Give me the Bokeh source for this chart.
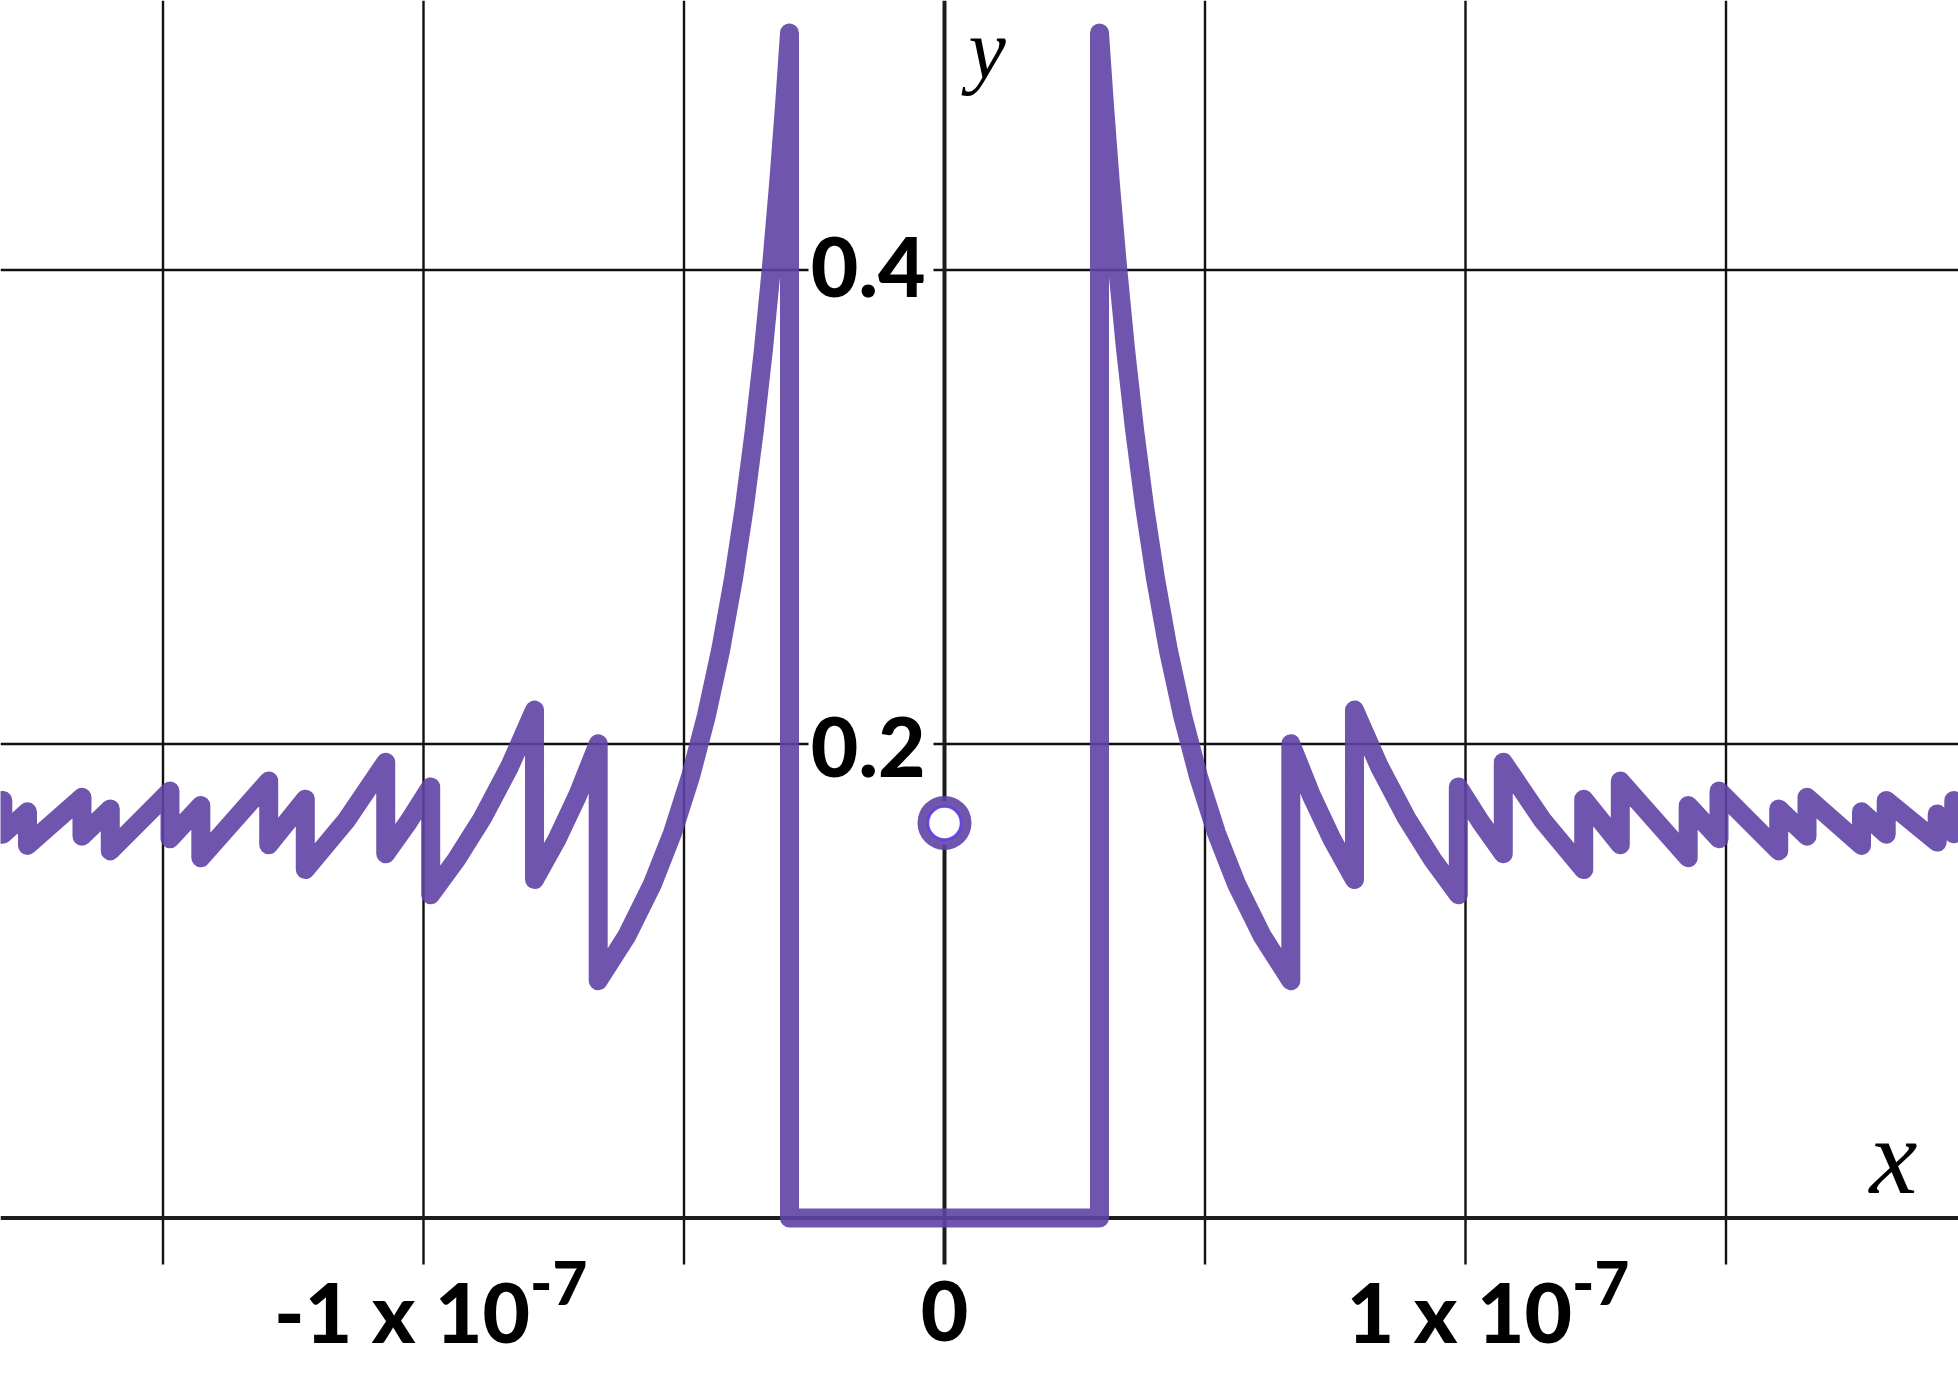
import numpy as np
from bokeh.plotting import figure
from bokeh.models import Range1d
from bokeh.core.properties import value
from bokeh.embed import file_html
from bokeh.resources import INLINE

# ---------------- data ----------------
left_x = [-1.9962e-7, -1.9372e-7, -1.9372e-7, -1.9054e-7, -1.9054e-7, -1.8075e-7, -1.8075e-7,
          -1.7601e-7, -1.7601e-7, -1.6555e-7, -1.6555e-7, -1.6012e-7, -1.6012e-7, -1.4866e-7,
          -1.4866e-7, -1.4274e-7, -1.4274e-7, -1.2971e-7, -1.2971e-7, -1.2269e-7, -1.2269e-7,
          -1.1478e-7, -1.0725e-7, -1.0725e-7, -1.0288e-7, -9.862e-8, -9.862e-8, -9.367e-8,
          -8.868e-8, -8.349e-8, -7.869e-8, -7.869e-8, -7.447e-8, -7.044e-8, -6.647e-8,
          -6.647e-8, -6.104e-8, -5.605e-8, -5.221e-8, -4.875e-8, -4.568e-8, -4.299e-8,
          -4.050e-8, -3.839e-8, -3.647e-8, -3.474e-8, -3.321e-8, -3.186e-8, -3.071e-8,
          -2.975e-8, -2.975e-8]
left_y = [0.1660, 0.1762, 0.1621, 0.1705, 0.1586, 0.1762, 0.1619, 0.1714, 0.1572, 0.1775,
          0.1611, 0.1726, 0.1549, 0.1802, 0.1600, 0.1741, 0.1520, 0.1844, 0.1575, 0.1767,
          0.1470, 0.1679, 0.1923, 0.1537, 0.1672, 0.1819, 0.1364, 0.1513, 0.1688, 0.1904,
          0.2143, 0.1428, 0.1594, 0.1782, 0.2001, 0.1001, 0.1188, 0.1409, 0.1624, 0.1862,
          0.2121, 0.2394, 0.2698, 0.3003, 0.3328, 0.3667, 0.4014, 0.4359, 0.4692,
          0.5000, 0.0]

right_x = [2.975e-8, 2.975e-8, 3.071e-8, 3.186e-8, 3.321e-8, 3.474e-8, 3.647e-8, 3.839e-8,
           4.050e-8, 4.299e-8, 4.568e-8, 4.875e-8, 5.221e-8, 5.605e-8, 6.104e-8,
           6.647e-8, 6.647e-8, 7.044e-8, 7.447e-8, 7.869e-8, 7.869e-8, 8.349e-8, 8.868e-8,
           9.367e-8, 9.862e-8, 9.862e-8, 1.0288e-7, 1.0725e-7, 1.0725e-7, 1.1478e-7,
           1.2269e-7, 1.2269e-7, 1.2971e-7, 1.2971e-7, 1.4274e-7, 1.4274e-7, 1.4866e-7,
           1.4866e-7, 1.6012e-7, 1.6012e-7, 1.6555e-7, 1.6555e-7, 1.7601e-7, 1.7601e-7,
           1.8075e-7, 1.8075e-7, 1.9054e-7, 1.9054e-7, 1.9372e-7, 1.9372e-7, 1.9962e-7]
right_y = [0.0, 0.5000, 0.4692, 0.4359, 0.4014, 0.3667, 0.3328, 0.3003, 0.2698, 0.2394,
           0.2121, 0.1862, 0.1624, 0.1409, 0.1188, 0.1001, 0.2001, 0.1782, 0.1594, 0.1428,
           0.2143, 0.1904, 0.1688, 0.1513, 0.1364, 0.1819, 0.1672, 0.1537, 0.1923, 0.1679,
           0.1470, 0.1767, 0.1575, 0.1844, 0.1520, 0.1741, 0.1600, 0.1802, 0.1549, 0.1726,
           0.1611, 0.1775, 0.1572, 0.1714, 0.1619, 0.1762, 0.1586, 0.1705, 0.1621, 0.1762,
           0.1660]

hole_x = [0.0]
hole_y = [0.1667]

x_grid = [-1.5e-7, -1.0e-7, -5e-8, 5e-8, 1.0e-7, 1.5e-7]
y_grid = [0.2, 0.4]

x_tick_vals = [-1e-7, 1e-7]
x_tick_main = ["-1 x 10", "1 x 10"]
x_tick_sup = ["-7", "-7"]
zero_label = ["0"]
y_tick_vals = [0.2, 0.4]
y_tick_labels = ["0.2", "0.4"]

# ---------------- layout ----------------
W, H = 1958, 1385
X0, X1 = -1.811900e-7, 1.946257e-7
Y0, Y1 = -0.070675, 0.513713
SX = W / (X1 - X0)  # px per x unit
GRID_BOTTOM = -0.0196

p = figure(width=W, height=H, x_range=Range1d(X0, X1), y_range=Range1d(Y0, Y1),
           output_backend="svg", toolbar_location=None,
           x_axis_location=None, y_axis_location=None, min_border=0,
           outline_line_color=None, background_fill_color="white",
           border_fill_color="white")
p.grid.visible = False

GRID_COLOR = "#111111"
AXIS_COLOR = "#1c1c1c"

# vertical grid lines
p.segment(x0=x_grid, y0=[GRID_BOTTOM] * len(x_grid), x1=x_grid, y1=[Y1] * len(x_grid),
          line_color=GRID_COLOR, line_width=2.4)
# horizontal grid lines, with a gap behind the y labels
gap_l = -136 / SX
gap_r = -11 / SX
hx0, hx1, hy = [], [], []
for yv in y_grid:
    hx0 += [X0, gap_r]
    hx1 += [gap_l, X1]
    hy += [yv, yv]
p.segment(x0=hx0, y0=hy, x1=hx1, y1=hy, line_color=GRID_COLOR, line_width=2.4)

# axes
p.segment(x0=[X0], y0=[0], x1=[X1], y1=[0], line_color=AXIS_COLOR, line_width=4)
p.segment(x0=[0], y0=[GRID_BOTTOM], x1=[0], y1=[Y1], line_color=AXIS_COLOR, line_width=4)

# tick labels
FONT = value("Lato Black")
p.text(x=[0, 0], y=y_tick_vals, text=y_tick_labels, text_font=FONT,
       text_font_size="82px", text_color="black",
       text_align="right", text_baseline="alphabetic",
       x_offset=-19, y_offset=[3, -3])
p.text(x=x_tick_vals, y=[0, 0], text=x_tick_main, text_font=FONT,
       text_font_size="82px", text_color="black",
       text_align="right", text_baseline="alphabetic", x_offset=106.5, y_offset=93)
p.text(x=x_tick_vals, y=[0, 0], text=x_tick_sup, text_font=FONT,
       text_font_size="60px", text_color="black",
       text_align="left", text_baseline="alphabetic", x_offset=106.5, y_offset=65)
p.text(x=[0], y=[0], text=zero_label, text_font=FONT,
       text_font_size="82px", text_color="black",
       text_align="center", text_baseline="alphabetic", y_offset=93)

# axis names
SERIF = value("Liberation Serif")
p.text(x=[0], y=[Y1], text=["y"], text_font=SERIF, text_font_size="84px",
       text_font_style="italic", text_color="black", text_align="left",
       text_baseline="alphabetic", x_offset=24, y_offset=49)
p.text(x=[X1], y=[0], text=["x"], text_font=SERIF, text_font_size="108px",
       text_font_style="italic", text_color="black", text_align="right",
       text_baseline="alphabetic", x_offset=-41, y_offset=-62)

# curve
xs = left_x + right_x
ys = left_y + right_y
p.line(xs, ys, line_color="#6042a6", line_alpha=0.9, line_width=19,
       line_join="round", line_cap="round")

# hole at x = 0
p.scatter(hole_x, hole_y, size=44, line_width=10, fill_color="white", fill_alpha=1.0,
          line_color="#6042a6", line_alpha=0.9)
p.scatter(hole_x, hole_y, size=33, line_width=2.5, fill_alpha=0,
          line_color="#5d35e0", line_alpha=0.9)

open("out.html", "w").write(file_html(p, INLINE))
